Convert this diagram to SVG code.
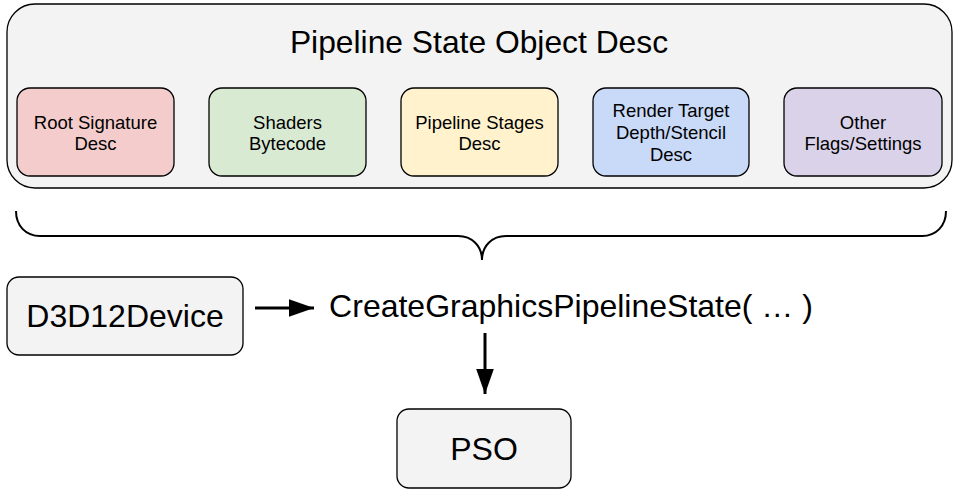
<svg xmlns="http://www.w3.org/2000/svg" width="960" height="498" viewBox="0 0 960 498">
<style>
text{font-family:"Liberation Sans",Arial,sans-serif;fill:#000;text-anchor:middle}
.sub{font-size:18.5px}
.big{font-size:32px}
.box{stroke:#000;stroke-width:1.3}
.line{stroke:#000;stroke-width:3;fill:none}
</style>
<defs>
<marker id="ah" markerWidth="8.5" markerHeight="6" refX="8.5" refY="3" orient="auto" markerUnits="strokeWidth">
<path d="M0,0 L8.5,3 L0,6 Z" fill="#000"/>
</marker>
</defs>
<rect width="960" height="498" fill="#fff"/>
<g id="pso-desc">
<rect class="box" x="7" y="4" width="945" height="184" rx="28" fill="#f3f3f3" stroke-width="1.6"/>
<text x="479" y="53" style="font-size:31.8px">Pipeline State Object Desc</text>
</g>
<g id="root-signature">
<rect class="box" x="17" y="88" width="157" height="88" rx="13" fill="#f4cccc"/>
<text class="sub" x="95.5" y="129">Root Signature</text>
<text class="sub" x="95.5" y="150">Desc</text>
</g>
<g id="shaders">
<rect class="box" x="209" y="88" width="157" height="88" rx="13" fill="#d9ead3"/>
<text class="sub" x="287.5" y="129">Shaders</text>
<text class="sub" x="287.5" y="150">Bytecode</text>
</g>
<g id="pipeline-stages">
<rect class="box" x="401" y="88" width="157" height="88" rx="13" fill="#fff2cc"/>
<text class="sub" x="479.5" y="129">Pipeline Stages</text>
<text class="sub" x="479.5" y="150">Desc</text>
</g>
<g id="render-target">
<rect class="box" x="593" y="88" width="156" height="88" rx="13" fill="#c9daf8"/>
<text class="sub" x="671" y="117">Render Target</text>
<text class="sub" x="671" y="139">Depth/Stencil</text>
<text class="sub" x="671" y="161">Desc</text>
</g>
<g id="other-flags">
<rect class="box" x="784" y="88" width="158" height="88" rx="13" fill="#d9d2e9"/>
<text class="sub" x="863" y="129">Other</text>
<text class="sub" x="863" y="150">Flags/Settings</text>
</g>
<g id="brace">
<path d="M16,211 C16,226 26,236 40,236 L458,236 C472,236 482,246 482,260 C482,246 492,236 506,236 L922,236 C936,236 946,226 946,211" fill="none" stroke="#000" stroke-width="2"/>
</g>
<g id="d3d12device">
<rect class="box" x="7" y="277" width="236" height="78" rx="12" fill="#f3f3f3"/>
<text class="big" x="125" y="327">D3D12Device</text>
</g>
<g id="create-call">
<text class="big" x="571" y="317">CreateGraphicsPipelineState( … )</text>
</g>
<g id="pso">
<rect class="box" x="397" y="409" width="174" height="79" rx="12" fill="#f3f3f3"/>
<text class="big" x="484" y="460">PSO</text>
</g>
<g id="connectors">
<line class="line" x1="255" y1="308" x2="314" y2="308" marker-end="url(#ah)"/>
<line class="line" x1="485" y1="333" x2="485" y2="394" marker-end="url(#ah)"/>
</g>
</svg>
